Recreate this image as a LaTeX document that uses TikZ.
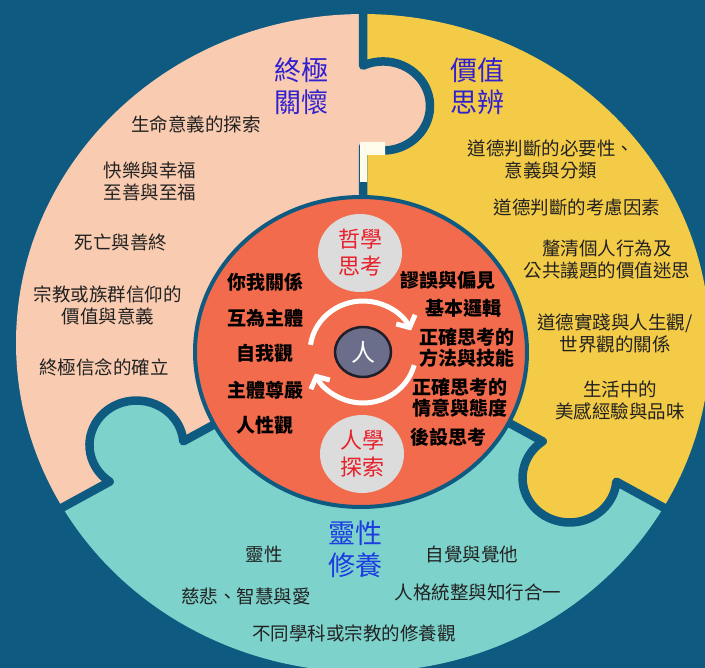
\documentclass[tikz,border=0pt]{standalone}
\usepackage{fontspec}
\newfontfamily\cjk{Noto Sans CJK TC}
\usetikzlibrary{arrows.meta,shapes.geometric}
\definecolor{bgblue}{HTML}{0E5A80}
\definecolor{peach}{HTML}{F9CBB0}
\definecolor{yel}{HTML}{F4CB46}
\definecolor{tealc}{HTML}{7DD3CB}
\definecolor{orng}{HTML}{F26B4C}
\definecolor{grayc}{HTML}{DCDCDC}
\definecolor{hubc}{HTML}{6B6E8A}
\definecolor{hubline}{HTML}{1E1E2A}
\definecolor{titleA}{HTML}{3020D0}
\definecolor{titleB}{HTML}{1C3BE0}
\definecolor{redt}{HTML}{E8202A}
\definecolor{bodyt}{HTML}{222222}
\definecolor{patch}{HTML}{FFFCEB}
\begin{document}
\begin{tikzpicture}[x=1pt,y=-1pt,
  body/.style={font=\cjk\fontsize{18.5}{22}\selectfont, text=bodyt, align=center, inner sep=0pt},
  inbold/.style={font=\cjk\bfseries\fontsize{19}{21}\selectfont, text=black, align=center, inner sep=0pt},
  ttlA/.style={font=\cjk\fontsize{27}{32}\selectfont, text=titleA, align=center, inner sep=0pt},
  ttlB/.style={font=\cjk\fontsize{27}{32}\selectfont, text=titleB, align=center, inner sep=0pt},
  gcirc/.style={ellipse, fill=grayc, minimum width=84pt, minimum height=78pt, inner sep=0pt,
    font=\cjk\fontsize{22}{27}\selectfont, text=redt, align=center},
  hub/.style={ellipse, fill=hubc, draw=hubline, line width=2.5pt, minimum width=56pt, minimum height=50pt,
    inner sep=0pt, font=\cjk\fontsize{24}{24}\selectfont, text=white},
  divider/.style={draw=bgblue, line width=8.5pt, line join=round},
  cyc/.style={draw=white, line width=5pt, -{Straight Barb[length=9pt,width=21pt]}}
]
\useasboundingbox (0,0) rectangle (705,668);
\fill[bgblue] (0,0) rectangle (705,668);

% puzzle disk
\begin{scope}[shift={(363,343)}, yscale=-0.948]
  \fill[peach] (0,0) -- (90:347) arc[start angle=90, end angle=210, radius=347] -- cycle;
  \fill[tealc] (0,0) -- (210:347) arc[start angle=210, end angle=330, radius=347] -- cycle;
  \fill[yel] (0,0) -- (330:347) arc[start angle=330, end angle=450, radius=347] -- cycle;
  \fill[peach, rotate=0] (20,250) circle[radius=47];
  \fill[yel, rotate=120] (20,250) circle[radius=47];
  \fill[tealc, rotate=240] (20,250) circle[radius=47];
  \foreach \r in {0,120,240} {
    \draw[divider, rotate=\r] (0,100) -- (0,207.5)
      arc[start angle=-115.2, end angle=115.2, radius=47] -- (0,365);
  }
\end{scope}
\fill[patch] (360,142) -- (385,142) -- (385,155) -- (367,155) -- (367,182) -- (360,182) -- cycle;

% inner disk
\draw[fill=orng, draw=bgblue, line width=4pt] (361,352) ellipse[x radius=166, y radius=155];

\node[gcirc] (phil) at (360,253) {哲學\\思考};
\node[gcirc] (human) at (362,454) {人學\\探索};
\node[hub] (hub) at (363,352) {人};

\begin{scope}[shift={(hub.center)}, yscale=-1]
  \draw[cyc] (172:53 and 51) arc[start angle=172, end angle=25, x radius=53, y radius=51];
  \draw[cyc] (-15:53 and 51) arc[start angle=-15, end angle=-155, x radius=53, y radius=51];
\end{scope}

% centre texts
\node[inbold] (c1) at (265,282) {你我關係};
\node[inbold] (c2) at (265,318) {互為主體};
\node[inbold] (c3) at (265,353) {自我觀};
\node[inbold] (c4) at (265,390) {主體尊嚴};
\node[inbold] (c5) at (265,425) {人性觀};
\node[inbold] (d1) at (448,280) {謬誤與偏見};
\node[inbold] (d2) at (463,308) {基本邏輯};
\node[inbold] (d3) at (467,347.5) {正確思考的\\方法與技能};
\node[inbold] (d4) at (460,397.5) {正確思考的\\情意與態度};
\node[inbold] (d5) at (448,437) {後設思考};

% peach piece
\node[ttlA] (tA) at (301,86) {終極\\關懷};
\node[body] (p1) at (196,124) {生命意義的探索};
\node[body] (p2) at (150,181) {快樂與幸福\\至善與至福};
\node[body] (p3) at (121,242) {死亡與善終};
\node[body] (p4) at (108,305) {宗教或族群信仰的\\價值與意義};
\node[body] (p5) at (104,367) {終極信念的確立};

% yellow piece
\node[ttlA] (tB) at (477,86) {價值\\思辨};
\node[body] (y1) at (551,159) {道德判斷的必要性、\\意義與分類};
\node[body] (y2) at (577,207) {道德判斷的考慮因素};
\node[body] (y3) at (607,260) {釐清個人行為及\\公共議題的價值迷思};
\node[body] (y4) at (615,333) {道德實踐與人生觀/\\世界觀的關係};
\node[body] (y5) at (620,400) {生活中的\\美感經驗與品味};

% teal piece
\node[ttlB] (tC) at (355,549) {靈性\\修養};
\node[body] (t1) at (264,554) {靈性};
\node[body] (t2) at (472,554) {自覺與覺他};
\node[body] (t3) at (246,596) {慈悲、智慧與愛};
\node[body] (t4) at (478,592) {人格統整與知行合一};
\node[body] (t5) at (354,633) {不同學科或宗教的修養觀};
\end{tikzpicture}
\end{document}
